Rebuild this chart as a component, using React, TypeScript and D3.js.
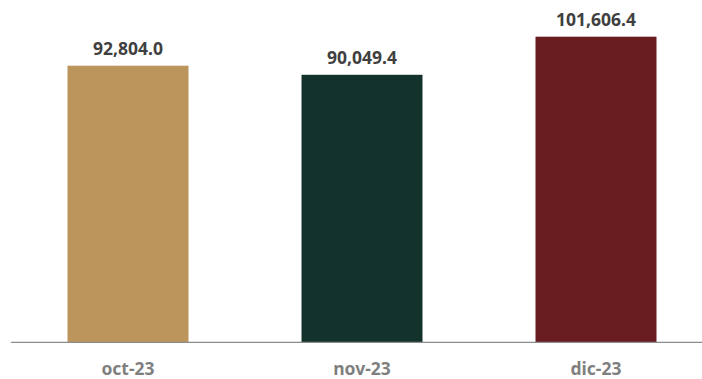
import React from "react";
import * as d3 from "d3";

const categories = ["oct-23", "nov-23", "dic-23"];
const values = [92804.0, 90049.4, 101606.4];
const colors = ["#BC955C", "#13322B", "#691C20"];
const yDomain = [8858, 101606.4];

const W = 702;
const H = 379;
const baseY = 342.3;

export default function App() {
  const x = d3.scaleBand<string>().domain(categories).range([11, 713]).paddingInner(0.483).paddingOuter(0.2415);
  const y = d3.scaleLinear().domain(yDomain).range([baseY, 36.7]);
  const fmt = d3.format(",.1f");
  const font = "'Noto Sans', 'Open Sans', sans-serif";
  return (
    <div style={{ position: "absolute", left: 0, top: 0 }}>
      <svg width={W} height={H} style={{ display: "block", background: "#fff" }}>
        {categories.map((c, i) => {
          const bx = x(c) as number;
          const bw = x.bandwidth();
          const top = y(values[i]);
          return (
            <g key={c}>
              <rect x={bx} y={top} width={bw} height={baseY - top} fill={colors[i]} />
              <text
                x={bx + bw / 2}
                y={top - 10.5}
                textAnchor="middle"
                fontFamily={font}
                fontWeight={700}
                fontSize={17.5}
                fill="#404040"
              >
                {fmt(values[i])}
              </text>
              <text
                x={bx + bw / 2}
                y={374.5}
                textAnchor="middle"
                fontFamily={font}
                fontWeight={700}
                fontSize={17.5}
                fill="#7F7F7F"
              >
                {c}
              </text>
            </g>
          );
        })}
        <line x1={11} x2={702} y1={baseY} y2={baseY} stroke="#8C8C8C" strokeWidth={1.2} />
      </svg>
    </div>
  );
}
